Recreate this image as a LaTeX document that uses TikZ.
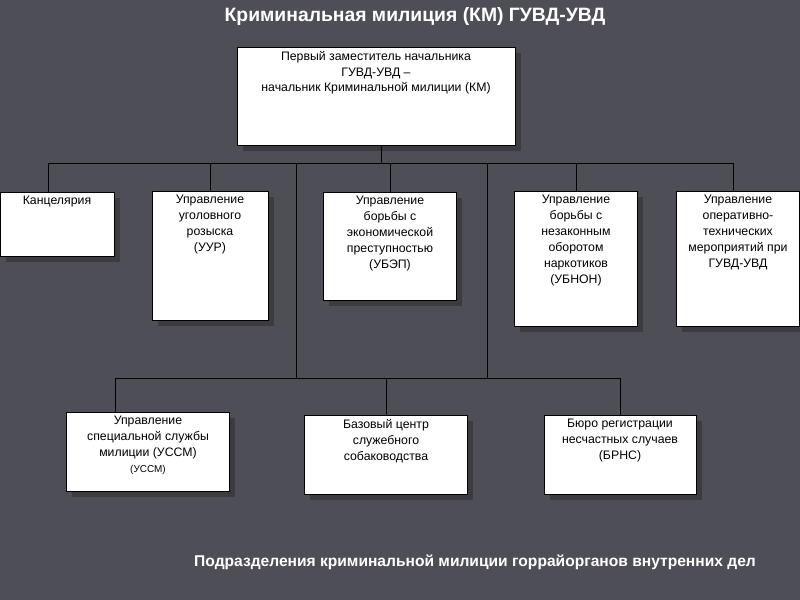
\documentclass[tikz,border=0pt]{standalone}
\usepackage{fontspec}
\setmainfont{Liberation Sans}
\usetikzlibrary{positioning, shadows}
\definecolor{slide}{RGB}{78,78,86}
\definecolor{shade}{RGB}{60,60,64}
\tikzstyle{box}=[draw=black, fill=white, inner sep=0pt,
  drop shadow={shadow xshift=0.17cm, shadow yshift=-0.17cm, fill=shade, opacity=1}]
\tikzstyle{txt}=[align=center, inner sep=0pt, font=\fontsize{10.5}{13.6}\selectfont, anchor=north]
\tikzstyle{link}=[draw=black, line width=0.8pt]
\tikzstyle{head}=[text=white, font=\bfseries\fontsize{16.5}{19}\selectfont]
\begin{document}
\begin{tikzpicture}[x=0.03cm, y=-0.03cm]
      \fill[slide] (0,0) rectangle (800,600);
      \useasboundingbox (0,0) rectangle (800,600);

      \node[head] (title) at (415,17) {Криминальная милиция (КМ) ГУВД-УВД};

      % boxes
      \node[box, minimum width=8.34cm, minimum height=2.94cm] (chief) at (376,96) {};
      \node[box, minimum width=3.42cm, minimum height=1.92cm] (kanc) at (57,224) {};
      \node[box, minimum width=3.48cm, minimum height=3.87cm] (uur) at (210,256) {};
      \node[box, minimum width=3.99cm, minimum height=3.24cm] (ubep) at (390,246) {};
      \node[box, minimum width=3.69cm, minimum height=4.05cm] (ubnon) at (576,259) {};
      \node[box, minimum width=3.69cm, minimum height=4.05cm] (otm) at (738,259) {};
      \node[box, minimum width=4.89cm, minimum height=2.37cm] (ussm) at (148,452) {};
      \node[box, minimum width=4.89cm, minimum height=2.37cm] (dogs) at (386,455) {};
      \node[box, minimum width=4.56cm, minimum height=2.37cm] (brns) at (620,455) {};

      % texts
      \node[txt, below=0.12cm of chief.north] (chiefT) {Первый заместитель начальника\\ГУВД-УВД –\\начальник  Криминальной милиции (КМ)};
      \node[txt, below=0.12cm of kanc.north] (kancT) {Канцелярия};
      \node[txt, below=0.12cm of uur.north] (uurT) {Управление\\уголовного\\розыска\\(УУР)};
      \node[txt, below=0.12cm of ubep.north] (ubepT) {Управление\\борьбы с\\экономической\\преступностью\\(УБЭП)};
      \node[txt, below=0.12cm of ubnon.north] (ubnonT) {Управление\\борьбы с\\незаконным\\оборотом\\наркотиков\\(УБНОН)};
      \node[txt, below=0.12cm of otm.north] (otmT) {Управление\\оперативно-\\технических\\мероприятий при\\ГУВД-УВД};
      \node[txt, below=0.12cm of ussm.north] (ussmT) {Управление\\специальной  службы\\милиции (УССМ)\\{\fontsize{8.5}{11}\selectfont(УССМ)}};
      \node[txt, below=0.12cm of dogs.north] (dogsT) {Базовый центр\\служебного\\собаководства};
      \node[txt, below=0.12cm of brns.north] (brnsT) {Бюро регистрации\\несчастных случаев\\(БРНС)};

      % connectors
      \coordinate (bus) at (381,163);
      \coordinate (busL) at (48,163);
      \coordinate (busR) at (733,163);
      \coordinate (dropA) at (296,163);
      \coordinate (dropB) at (487,163);
      \coordinate (lowA) at (296,378);
      \coordinate (lowB) at (487,378);
      \coordinate (lowL) at (115,378);
      \coordinate (lowM) at (386,378);
      \coordinate (lowR) at (620,378);

      \draw[link] (chief.south -| bus) -- (bus);
      \draw[link] (busL) -- (busR);
      \foreach \b/\x in {kanc/48, uur/210, ubep/390, ubnon/576, otm/733}{
        \draw[link] (\x,163) -- (\x,163 |- \b.north);
      }
      \draw[link] (dropA) -- (lowA);
      \draw[link] (dropB) -- (lowB);
      \draw[link] (lowL) -- (lowR);
      \draw[link] (lowL) -- (lowL |- ussm.north);
      \draw[link] (lowM) -- (lowM |- dogs.north);
      \draw[link] (lowR) -- (lowR |- brns.north);

      \node[head, font=\bfseries\fontsize{13.3}{15}\selectfont] (foot) at (475,562) {Подразделения криминальной милиции горрайорганов внутренних дел};
\end{tikzpicture}
\end{document}
